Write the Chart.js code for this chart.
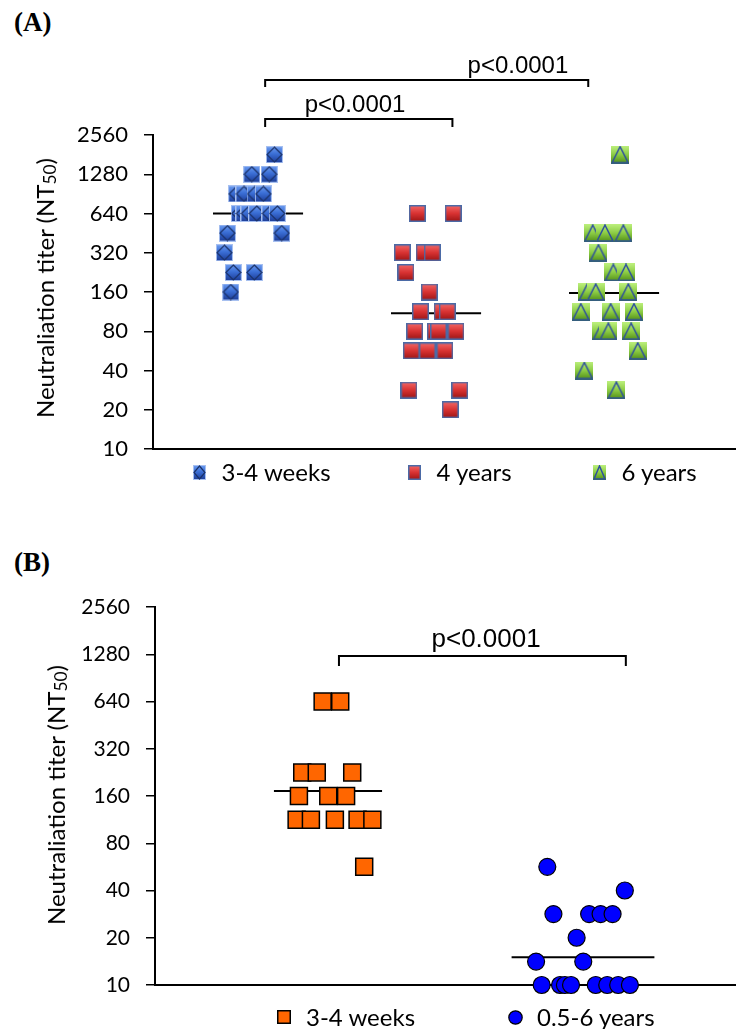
<!DOCTYPE html>
<html><head><meta charset="utf-8">
<script src="https://cdn.jsdelivr.net/npm/chart.js@4.4.1/dist/chart.umd.min.js"></script>
<style>
html,body{margin:0;padding:0;background:#fff;}
body{width:736px;height:1029px;position:relative;overflow:hidden;font-family:Lato,sans-serif;color:#000;}
.plabel{position:absolute;left:14px;font:bold 27px "Liberation Serif",serif;line-height:1;}
.ytitle{position:absolute;white-space:nowrap;font-family:Lato,sans-serif;font-size:24px;line-height:1;transform:translate(-50%,-50%) rotate(-90deg);}
.ytitle .sub{font-size:0.72em;position:relative;top:0.12em;}
.litem{position:absolute;display:flex;align-items:center;white-space:nowrap;font-family:Lato,sans-serif;font-size:24px;line-height:1;transform:translateY(-50%);}
canvas.chart{position:absolute;left:0;}
</style></head>
<body>
<div class="plabel" style="top:9px">(A)</div>
<canvas class="chart" id="chartA" width="736" height="520" style="top:0"></canvas>
<div class="ytitle" style="left:45px;top:288px">Neutraliation titer (NT<span class="sub">50</span>)</div>
<div id="legA"></div>
<div class="plabel" style="top:549px">(B)</div>
<canvas class="chart" id="chartB" width="736" height="509" style="top:520px"></canvas>
<div class="ytitle" style="left:56px;top:795px">Neutraliation titer (NT<span class="sub">50</span>)</div>
<div id="legB"></div>
<script>
// ---------- data ----------
const yTickValues = [10, 20, 40, 80, 160, 320, 640, 1280, 2560];
const yTickLabels = ['10', '20', '40', '80', '160', '320', '640', '1280', '2560'];

// Panel A
const seriesA = ['3-4 weeks', '4 years', '6 years'];
const weeksA = [1810, 1280, 1280, 905, 905, 905, 905, 640, 640, 640, 640, 640, 640, 453, 453, 320, 226, 226, 160];
const weeksAJitter = [0.092, -0.035, 0.063, -0.120, -0.079, -0.017, 0.030, -0.105, -0.079, -0.051, -0.007, 0.067, 0.108, -0.172, 0.133, -0.189, -0.139, -0.021, -0.153];
const years4A = [640, 640, 320, 320, 320, 226, 160, 113, 113, 113, 80, 80, 80, 80, 56.6, 56.6, 56.6, 28.3, 28.3, 20];
const years4AJitter = [-0.105, 0.096, -0.189, -0.067, -0.021, -0.169, -0.038, -0.088, 0.034, 0.063, -0.120, -0.004, 0.014, 0.112, -0.139, -0.049, 0.049, -0.152, 0.133, 0.080];
const years6A = [1810, 453, 453, 453, 320, 226, 226, 160, 160, 160, 113, 113, 113, 80, 80, 80, 56.6, 40, 28.3];
const years6AJitter = [0.034, -0.120, -0.051, 0.052, -0.088, -0.004, 0.067, -0.150, -0.103, 0.080, -0.187, -0.019, 0.112, -0.071, -0.032, 0.096, 0.133, -0.167, 0.013];
const mediansA = [640, 110, 157];
const pValuesA = ['p<0.0001', 'p<0.0001'];

// Panel B
const seriesB = ['3-4 weeks', '0.5-6 years'];
const weeksB = [640, 640, 226, 226, 226, 160, 160, 160, 113, 113, 113, 113, 113, 56.6];
const weeksBJitter = [-0.021, 0.048, -0.101, -0.044, 0.095, -0.114, 0.001, 0.071, -0.123, -0.067, 0.027, 0.116, 0.174, 0.142];
const yearsB = [56.6, 40, 28.3, 28.3, 28.3, 28.3, 20, 14.1, 14.1, 10, 10, 10, 10, 10, 10, 10, 10];
const yearsBJitter = [-0.140, 0.164, -0.116, 0.024, 0.069, 0.116, -0.025, -0.184, 0.001, -0.162, -0.090, -0.071, -0.047, 0.050, 0.095, 0.138, 0.184];
const mediansB = [172, 15];
const pValuesB = ['p<0.0001'];

// ---------- helpers ----------
Chart.defaults.font.family = 'Lato';
Chart.defaults.color = '#000';

function marker(kind, w, h) {
  const c = document.createElement('canvas');
  c.width = w; c.height = h;
  const g = c.getContext('2d');
  const grad = g.createLinearGradient(0, 0, 0, h);
  if (kind === 'diamond') {
    grad.addColorStop(0, '#6f9ef2'); grad.addColorStop(0.45, '#3b6fd6'); grad.addColorStop(1, '#1b3a94');
    g.fillStyle = grad; g.fillRect(0, 0, w, h);
    g.strokeStyle = '#a7c0f0'; g.lineWidth = 1; g.strokeRect(0.5, 0.5, w - 1, h - 1);
    g.beginPath(); g.moveTo(w / 2, 1); g.lineTo(w - 1, h / 2); g.lineTo(w / 2, h - 1); g.lineTo(1, h / 2); g.closePath();
    g.strokeStyle = '#1a3168'; g.lineWidth = 1.2; g.stroke();
  } else if (kind === 'square') {
    grad.addColorStop(0, '#f46a6a'); grad.addColorStop(0.5, '#d83232'); grad.addColorStop(1, '#9a1414');
    g.fillStyle = grad; g.fillRect(0, 0, w, h);
    g.strokeStyle = '#4b6aa6'; g.lineWidth = 1.5; g.strokeRect(0.75, 0.75, w - 1.5, h - 1.5);
  } else if (kind === 'triangle') {
    grad.addColorStop(0, '#bdf07e'); grad.addColorStop(0.5, '#8ccc44'); grad.addColorStop(1, '#4f8c16');
    g.fillStyle = grad; g.fillRect(0, 0, w, h);
    g.beginPath(); g.moveTo(1, h - 1); g.lineTo(w / 2, 1); g.lineTo(w - 1, h - 1); g.closePath();
    g.strokeStyle = '#2d4f9e'; g.lineWidth = 1.5; g.stroke();
  } else if (kind === 'orange') {
    g.fillStyle = '#ff6600'; g.fillRect(0, 0, w, h);
    g.strokeStyle = '#000'; g.lineWidth = 1.5; g.strokeRect(0.75, 0.75, w - 1.5, h - 1.5);
  } else if (kind === 'circle') {
    g.beginPath(); g.ellipse(w / 2, h / 2, w / 2 - 0.8, h / 2 - 0.8, 0, 0, Math.PI * 2);
    g.fillStyle = '#0000ff'; g.fill(); g.strokeStyle = '#000'; g.lineWidth = 1.2; g.stroke();
  }
  return c;
}

function points(vals, jit, g) { return vals.map((v, i) => ({ x: g + jit[i], y: v })); }
function medianLine(m, g, hw) { return [{ x: g - hw, y: m }, { x: g + hw, y: m }]; }

function medianDataset(m, g, hw) {
  return { data: medianLine(m, g, hw), showLine: true, borderColor: '#000', borderWidth: 2,
           pointRadius: 0, order: 2, clip: false, isMedian: true };
}

const bracketPlugin = {
  id: 'brackets',
  afterDatasetsDraw(chart, args, opts) {
    const { ctx, chartArea } = chart;
    const x = chart.scales.x;
    ctx.save();
    ctx.strokeStyle = '#000'; ctx.lineWidth = 2; ctx.fillStyle = '#000';
    ctx.font = opts.font; ctx.textAlign = 'center'; ctx.textBaseline = 'alphabetic';
    opts.items.forEach(b => {
      const x1 = x.getPixelForValue(b.from), x2 = x.getPixelForValue(b.to);
      const y = chartArea.top + b.dy;
      ctx.beginPath();
      ctx.moveTo(x1, y + b.tick); ctx.lineTo(x1, y); ctx.lineTo(x2, y); ctx.lineTo(x2, y + b.tick);
      ctx.stroke();
      ctx.fillText(b.label, x.getPixelForValue(b.labelAt), chartArea.top + b.labelDy);
    });
    ctx.restore();
  }
};

function yScale(leftWidth, fontSize) {
  return {
    type: 'logarithmic', min: 10, max: 2560,
    afterBuildTicks(s) { s.ticks = yTickValues.map(v => ({ value: v })); },
    afterFit(s) { s.width = leftWidth; },
    ticks: { callback: (v, i) => yTickLabels[i], font: { family: 'Lato', size: fontSize }, color: '#000', padding: 16, autoSkip: false },
    grid: { display: true, drawOnChartArea: false, drawTicks: true, tickLength: 9, color: '#000', lineWidth: 1.5 },
    border: { display: true, color: '#000', width: 2 }
  };
}
function xScale(min, max) {
  return {
    type: 'linear', min, max,
    afterFit(s) { s.height = 0; },
    ticks: { display: false },
    grid: { display: false, drawTicks: false },
    border: { display: true, color: '#000', width: 2 }
  };
}

function htmlLegend(chart, el, centers, cy, legendMarkers) {
  const items = chart.data.datasets.filter(d => !d.isMedian);
  items.forEach((d, i) => {
    const m = legendMarkers[i];
    const div = document.createElement('div');
    div.className = 'litem';
    div.style.left = (centers[i] - m.width / 2) + 'px';
    div.style.top = cy + 'px';
    m.style.display = 'block';
    div.appendChild(m);
    const sp = document.createElement('span');
    sp.textContent = d.label;
    sp.style.marginLeft = (22 - m.width / 2) + 'px';
    div.appendChild(sp);
    el.appendChild(div);
  });
}

// ---------- chart A ----------
const hwA = 0.253;
const chartA = new Chart(document.getElementById('chartA'), {
  type: 'scatter',
  data: {
    datasets: [
      { label: seriesA[0], data: points(weeksA, weeksAJitter, 1), pointStyle: marker('diamond', 17, 17), pointRadius: 9, clip: false, order: 1 },
      { label: seriesA[1], data: points(years4A, years4AJitter, 2), pointStyle: marker('square', 17, 17), pointRadius: 9, clip: false, order: 1 },
      { label: seriesA[2], data: points(years6A, years6AJitter, 3), pointStyle: marker('triangle', 18, 18), pointRadius: 9, clip: false, order: 1 },
      medianDataset(mediansA[0], 1, hwA),
      medianDataset(mediansA[1], 2, hwA),
      medianDataset(mediansA[2], 3, hwA)
    ]
  },
  options: {
    responsive: false, animation: false, events: [],
    layout: { autoPadding: false, padding: { left: 0, right: 0, top: 135, bottom: 71 } },
    plugins: {
      legend: { display: false }, tooltip: { enabled: false },
      brackets: {
        font: '24px "Liberation Sans"',
        items: [
          { from: 1.04, to: 2.855, dy: -55, tick: 7, label: pValuesA[1], labelAt: 2.46, labelDy: -62 },
          { from: 1.04, to: 2.092, dy: -16, tick: 8, label: pValuesA[0], labelAt: 1.545, labelDy: -23.5 }
        ]
      }
    },
    scales: { x: xScale(0.41, 3.685), y: yScale(153, 22) }
  },
  plugins: [bracketPlugin]
});
htmlLegend(chartA, document.getElementById('legA'), [199.5, 414.5, 599.5], 472,
  [marker('diamond', 13, 15), marker('square', 13, 15), marker('triangle', 13, 15)]);

// ---------- chart B ----------
const chartB = new Chart(document.getElementById('chartB'), {
  type: 'scatter',
  data: {
    datasets: [
      { label: seriesB[0], data: points(weeksB, weeksBJitter, 1), pointStyle: 'rect', pointRadius: 12, backgroundColor: '#ff6600', borderColor: '#000', borderWidth: 1.5, clip: false, order: 1 },
      { label: seriesB[1], data: points(yearsB, yearsBJitter, 2), pointStyle: 'circle', pointRadius: 8.5, backgroundColor: '#0000ff', borderColor: '#000', borderWidth: 1.2, clip: false, order: 1 },
      medianDataset(mediansB[0], 1, 0.212),
      medianDataset(mediansB[1], 2, 0.28)
    ]
  },
  options: {
    responsive: false, animation: false, events: [],
    layout: { autoPadding: false, padding: { left: 0, right: 0, top: 87, bottom: 44 } },
    plugins: {
      legend: { display: false }, tooltip: { enabled: false },
      brackets: {
        font: '26px "Liberation Sans"',
        items: [
          { from: 1.043, to: 2.168, dy: 49, tick: 10, label: pValuesB[0], labelAt: 1.62, labelDy: 40 }
        ]
      }
    },
    scales: { x: xScale(0.3216, 2.6), y: yScale(155, 21) }
  },
  plugins: [bracketPlugin]
});
htmlLegend(chartB, document.getElementById('legB'), [284, 515], 1017,
  [marker('orange', 14, 14), marker('circle', 15, 15)]);
</script>
</body></html>
